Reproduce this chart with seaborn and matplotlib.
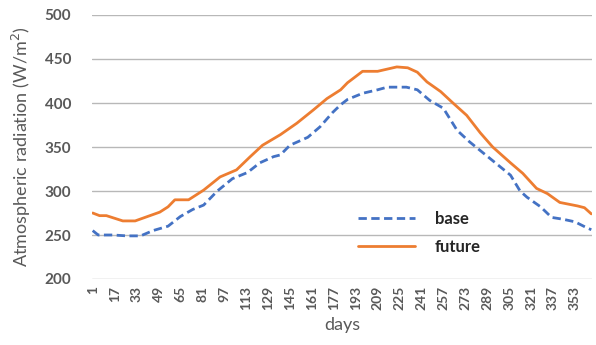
import matplotlib
matplotlib.use("Agg")
import matplotlib.pyplot as plt
import seaborn as sns
import pandas as pd

base_days = [1, 5, 16, 26, 36, 45, 56, 65, 74, 82, 92, 103, 114, 123, 133, 138, 145,
             158, 167, 176, 182, 187, 198, 209, 216, 230, 238, 247, 257, 267, 276, 291,
             306, 313, 318, 328, 336, 344, 353, 362, 365]
base_vals = [255, 250, 250, 249, 249, 255, 260, 271, 279, 284, 300, 314, 321, 332, 339, 341, 352,
             361, 373, 389, 398, 404, 411, 415, 418, 418, 415, 403, 394, 369, 356, 337,
             318, 300, 293, 282, 270, 268, 265, 258, 256]

future_days = [1, 6, 11, 23, 32, 41, 50, 56, 61, 71, 82, 94, 106, 116, 125, 138, 150, 162,
               172, 182, 187, 198, 209, 223, 231, 238, 245, 255, 264, 274, 284, 293, 306,
               315, 325, 333, 342, 355, 360, 365]
future_vals = [275, 272, 272, 266, 266, 271, 276, 282, 290, 290, 301, 316, 324, 339, 352, 364, 377, 392,
               405, 415, 423, 436, 436, 441, 440, 435, 424, 413, 400, 386, 366, 350, 332,
               320, 303, 297, 287, 283, 281, 274]

xticks = list(range(1, 354, 16))
yticks = [200, 250, 300, 350, 400, 450, 500]

sns.set_theme(style="white")
plt.rcParams["font.family"] = ["Lato", "DejaVu Sans"]

df_base = pd.DataFrame({"day": base_days, "val": base_vals})
df_fut = pd.DataFrame({"day": future_days, "val": future_vals})

fig = plt.figure(figsize=(5.96, 3.45), dpi=100)
ax = fig.add_axes([92 / 596, 1 - 279 / 345, 500 / 596, 264 / 345])

for y in yticks:
    ax.axhline(y, color="#b8b8b8", lw=1.0, zorder=0)

sns.lineplot(data=df_base, x="day", y="val", ax=ax, color="#4472C4", lw=2.0,
             label="base", dashes=False)
ax.lines[-1].set_dashes([3, 1.6])
sns.lineplot(data=df_fut, x="day", y="val", ax=ax, color="#ED7D31", lw=2.0,
             label="future")

ax.set_xlim(0.5, 365.5)
ax.set_ylim(200, 500)
ax.set_xticks(xticks)
ax.set_xticklabels([str(t) for t in xticks], rotation=90, fontsize=10,
                   fontweight="bold", color="#595959")
ax.set_yticks(yticks)
ax.set_yticklabels([str(t) for t in yticks], fontsize=11, fontweight="bold",
                   color="#595959")
ax.tick_params(axis="x", length=0, pad=5)
ax.tick_params(axis="y", length=0, pad=15)
for s in ax.spines.values():
    s.set_visible(False)
ax.grid(False)

ax.set_xlabel("days", fontsize=13, color="#595959", labelpad=5)
ax.set_ylabel("Atmospheric radiation (W/m$^2$)", fontsize=13, color="#595959", labelpad=8)

leg = ax.legend(loc="center left", bbox_to_anchor=(350 / 596, 1 - 233 / 345),
                bbox_transform=fig.transFigure, frameon=False, fontsize=12,
                handlelength=3.4, handletextpad=1.2, labelspacing=0.75, borderpad=0)
for t in leg.get_texts():
    t.set_fontweight("bold")
    t.set_color("#262626")

fig.savefig("out.png", dpi=100)
